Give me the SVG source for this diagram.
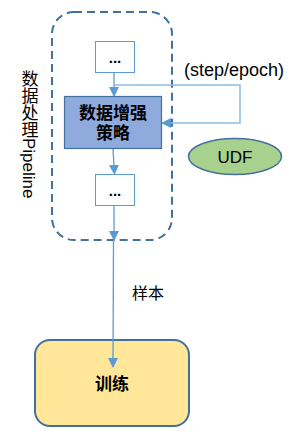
<svg xmlns="http://www.w3.org/2000/svg" width="300" height="439" viewBox="0 0 300 439">
  <style>
    text { font-family: "Liberation Sans", "Noto Sans CJK SC", sans-serif; fill: #000; }
    .small { fill: #fff; stroke: #5B9BD5; stroke-width: 1; }
    .conn { fill: none; stroke: #5B9BD5; stroke-width: 1.3; }
    .fb { fill: none; stroke: #8DBCE6; stroke-width: 1.5; }
    .b { font-weight: bold; }
  </style>
  <defs>
    <marker id="ah" markerWidth="10" markerHeight="10" refX="9" refY="5" orient="auto" markerUnits="userSpaceOnUse">
      <path d="M0,0 L10,5 L0,10 Z" fill="#5B9BD5"/>
    </marker>
  </defs>

  <g id="pipeline">
    <rect x="52" y="12" width="120" height="228" rx="22" fill="none" stroke="#41719C" stroke-width="2" stroke-dasharray="8,5"/>
    <text x="28" y="70" font-size="17" style="writing-mode: vertical-rl">数据处理Pipeline</text>
  </g>

  <g id="box-top">
    <rect class="small" x="95.5" y="41.5" width="39" height="31"/>
    <text x="115" y="63" font-size="15" text-anchor="middle" class="b">...</text>
  </g>

  <g id="augment">
    <rect x="64.5" y="96.5" width="97" height="52" fill="#8FAADC" stroke="#41719C" stroke-width="1.2"/>
    <text x="113" y="119" font-size="17" text-anchor="middle" class="b">数据增强</text>
    <text x="113" y="139" font-size="17" text-anchor="middle" class="b">策略</text>
  </g>

  <g id="box-bottom">
    <rect class="small" x="95.5" y="174.5" width="39" height="31"/>
    <text x="115" y="196" font-size="15" text-anchor="middle" class="b">...</text>
  </g>

  <g id="udf">
    <ellipse cx="235" cy="156.5" rx="46.5" ry="18" fill="#A9D18E" stroke="#41719C" stroke-width="1.5"/>
    <text x="235" y="163" font-size="17" text-anchor="middle">UDF</text>
  </g>

  <g id="train">
    <rect x="35" y="340" width="154" height="86" rx="15" fill="#FFE699" stroke="#41719C" stroke-width="2"/>
    <text x="112" y="390" font-size="17" text-anchor="middle" class="b">训练</text>
  </g>

  <g id="labels">
    <text x="234" y="76" font-size="18" text-anchor="middle">(step/epoch)</text>
    <text x="148" y="299" font-size="16" text-anchor="middle">样本</text>
  </g>

  <g id="connectors">
    <line class="conn" x1="114" y1="73" x2="114" y2="96" marker-end="url(#ah)"/>
    <polyline class="fb" points="114,85 240,85 240,123 162,123" marker-end="url(#ah)"/>
    <line class="conn" x1="113" y1="149" x2="114.5" y2="174" marker-end="url(#ah)"/>
    <line class="conn" x1="114" y1="206" x2="114" y2="240" marker-end="url(#ah)"/>
    <line class="conn" x1="113.5" y1="240" x2="113" y2="367" marker-end="url(#ah)"/>
  </g>
</svg>
